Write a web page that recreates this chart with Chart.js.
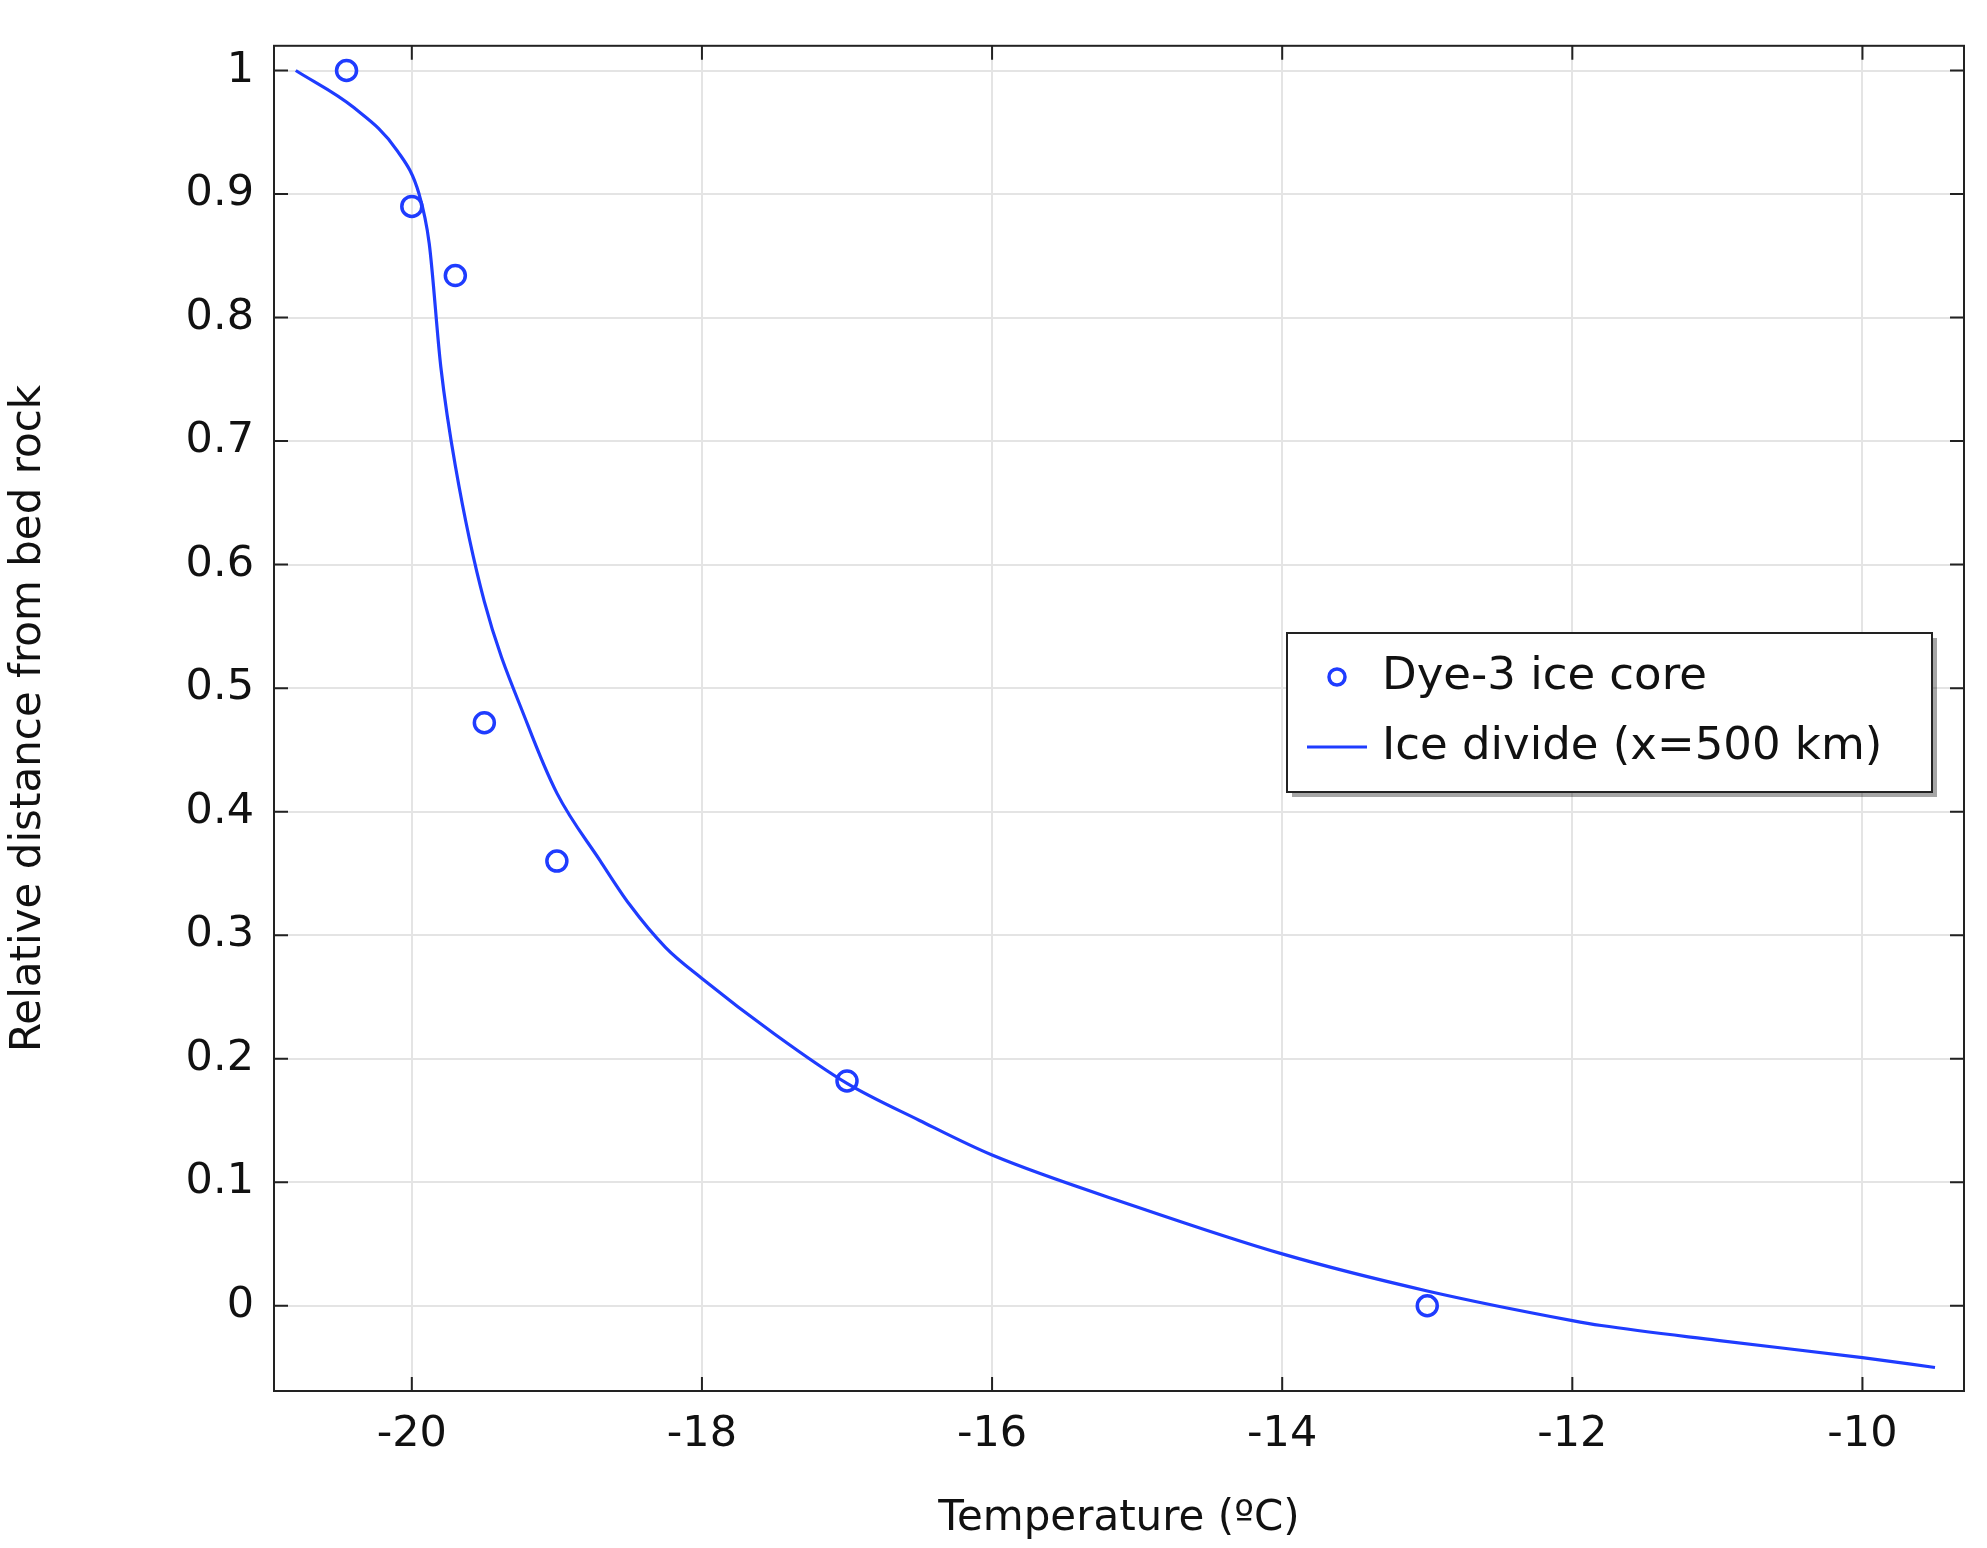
<!DOCTYPE html>
<html><head><meta charset="utf-8">
<script src="https://cdn.jsdelivr.net/npm/chart.js@4/dist/chart.umd.min.js"></script>
<style>html,body{margin:0;padding:0;background:#fff}#w{width:1987px;height:1548px}</style>
</head><body><div id="w"><canvas id="c"></canvas></div>
<script>
const xTicks=[-20,-18,-16,-14,-12,-10];
const yTicks=[0,0.1,0.2,0.3,0.4,0.5,0.6,0.7,0.8,0.9,1];
const coreT=[-20.45,-20.0,-19.7,-19.5,-19.0,-17.0,-13.0];
const coreD=[1.0,0.89,0.834,0.472,0.36,0.182,0.0];
const divT=[-20.8,-20.4,-20.1,-19.95,-19.88,-19.8,-19.7,-19.5,-19.2,-19.0,-18.7,-18.5,-18.25,-18.0,-17.5,-17.0,-16.5,-16.0,-15.0,-14.0,-13.0,-12.0,-11.8,-11.0,-10.0,-9.5];
const divD=[1.0,0.97,0.935,0.9,0.86,0.76,0.68,0.57,0.47,0.415,0.36,0.325,0.29,0.265,0.22,0.18,0.15,0.122,0.08,0.042,0.012,-0.012,-0.016,-0.028,-0.042,-0.05];
const labels=["Dye-3 ice core","Ice divide (x=500 km)"];
const blue='#1f3cff';
const F='"DejaVu Sans", sans-serif';
const frame={id:'frame',afterDraw(ch){const a=ch.chartArea,c=ch.ctx,xs=ch.scales.x,ys=ch.scales.y;
 c.save();c.strokeStyle='#222';c.lineWidth=2;c.strokeRect(a.left,a.top,a.right-a.left,a.bottom-a.top);
 c.beginPath();
 xTicks.forEach(v=>{const p=xs.getPixelForValue(v);c.moveTo(p,a.bottom);c.lineTo(p,a.bottom-14);c.moveTo(p,a.top);c.lineTo(p,a.top+14);});
 yTicks.forEach(v=>{const p=ys.getPixelForValue(v);c.moveTo(a.left,p);c.lineTo(a.left+14,p);c.moveTo(a.right,p);c.lineTo(a.right-14,p);});
 c.stroke();
 const L=1287,T=633,W=645,H=159;
 c.fillStyle='rgba(0,0,0,0.35)';c.fillRect(L+5,T+5,W,H);
 c.fillStyle='#fff';c.fillRect(L,T,W,H);c.strokeStyle='#222';c.lineWidth=2;c.strokeRect(L,T,W,H);
 c.strokeStyle=blue;c.lineWidth=3.5;c.beginPath();c.arc(L+50,T+44,8,0,Math.PI*2);c.stroke();
 c.lineWidth=3;c.beginPath();c.moveTo(L+20,T+114);c.lineTo(L+80,T+114);c.stroke();
 c.fillStyle='#111';c.font='45px '+F;c.textBaseline='middle';
 c.fillText(labels[0],L+95,T+44);c.fillText(labels[1],L+95,T+114);
 c.restore();}};
new Chart(document.getElementById('c'),{type:'scatter',
data:{datasets:[
 {data:coreT.map((x,i)=>({x,y:coreD[i]})),borderColor:blue,backgroundColor:'transparent',borderWidth:3.5,pointRadius:10,showLine:false},
 {data:divT.map((x,i)=>({x,y:divD[i]})),borderColor:blue,borderWidth:3.2,pointRadius:0,showLine:true,cubicInterpolationMode:'monotone'}]},
options:{responsive:true,maintainAspectRatio:false,animation:false,
 layout:{padding:{top:24,right:23,left:0,bottom:0}},
 plugins:{legend:{display:false},tooltip:{enabled:false}},
 scales:{
  x:{type:'linear',min:-20.95,max:-9.3,afterBuildTicks:s=>{s.ticks=xTicks.map(v=>({value:v}))},afterFit:s=>{s.height=157},
   grid:{color:'#e4e4e4',lineWidth:2,drawTicks:false},border:{display:false},
   ticks:{color:'#111',font:{size:43,family:F},padding:18},
   title:{display:true,text:'Temperature (ºC)',color:'#111',font:{size:42,family:F},padding:{top:0}}},
  y:{type:'linear',min:-0.069,max:1.02,afterBuildTicks:s=>{s.ticks=yTicks.map(v=>({value:v}))},afterFit:s=>{s.width=274},
   grid:{color:'#e4e4e4',lineWidth:2,drawTicks:false},border:{display:false},
   ticks:{color:'#111',font:{size:43,family:F},padding:20,callback:v=>String(+v.toFixed(1))},
   title:{display:true,text:'Relative distance from bed rock',color:'#111',font:{size:42,family:F},padding:{bottom:14}}}}},
plugins:[frame]});
</script></body></html>
